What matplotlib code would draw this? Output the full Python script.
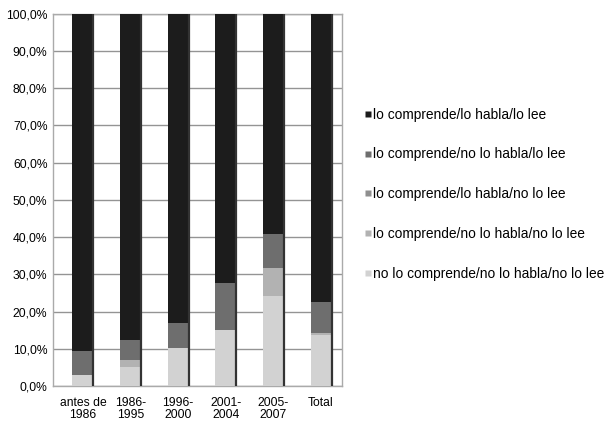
import matplotlib
matplotlib.use("Agg")
import matplotlib.pyplot as plt
from matplotlib.lines import Line2D
import numpy as np

plt.rcParams['font.family'] = ['Liberation Sans Narrow', 'Liberation Sans', 'DejaVu Sans']

categories = ["antes de\n1986", "1986-\n1995", "1996-\n2000", "2001-\n2004", "2005-\n2007", "Total"]
series_names = [
    "lo comprende/lo habla/lo lee",
    "lo comprende/no lo habla/lo lee",
    "lo comprende/lo habla/no lo lee",
    "lo comprende/no lo habla/no lo lee",
    "no lo comprende/no lo habla/no lo lee",
]
# stacked from bottom: no comprende, no habla/no lee, habla/no lee, no habla/lee, habla/lee
no_comprende = [3.0, 5.0, 10.2, 15.1, 24.1, 13.8]
no_habla_no_lee = [0.0, 2.0, 0.0, 0.0, 7.7, 0.5]
habla_no_lee = [0.0, 0.0, 0.0, 0.0, 0.0, 0.0]
no_habla_lee = [6.5, 5.3, 6.8, 12.6, 9.0, 8.2]
habla_lee = [90.5, 87.7, 83.0, 72.3, 59.2, 77.5]
yticks = [0, 10, 20, 30, 40, 50, 60, 70, 80, 90, 100]
ytick_labels = ["0,0%", "10,0%", "20,0%", "30,0%", "40,0%", "50,0%", "60,0%", "70,0%", "80,0%", "90,0%", "100,0%"]

colors = ["#1c1c1c", "#6e6e6e", "#8f8f8f", "#b2b2b2", "#d2d2d2"]

fig = plt.figure(figsize=(6.11, 4.23), dpi=100)
ax = fig.add_axes([0.0867, 0.0875, 0.473, 0.88])

x = np.arange(len(categories))
width = 0.44
stack = [no_comprende, no_habla_no_lee, habla_no_lee, no_habla_lee, habla_lee]
stack_colors = colors[::-1]
bottom = np.zeros(len(categories))
for vals, c in zip(stack, stack_colors):
    ax.bar(x, vals, width, bottom=bottom, color=c, edgecolor='none', zorder=3)
    bottom += np.array(vals)

# dark shadow line on right side of each bar
ax.vlines(x + width / 2, 0, bottom, color="#333333", lw=1.6, zorder=4)

ax.set_xlim(-0.63, 5.44)
ax.set_ylim(0, 100)
ax.set_yticks(yticks)
ax.set_yticklabels(ytick_labels, fontsize=8.7)
ax.set_xticks(x)
ax.set_xticklabels(categories, fontsize=8.7, linespacing=0.95)
ax.tick_params(axis='y', length=0, pad=4)
ax.tick_params(axis='x', length=0, pad=8)
ax.yaxis.grid(True, color="#949494", lw=1.0, zorder=0)
for s in ax.spines.values():
    s.set_color("#aaaaaa")
    s.set_linewidth(1.0)

handles = [Line2D([0], [0], marker='s', color='none', markerfacecolor=c, markeredgecolor='none',
                  markersize=4.5) for c in colors]
fig.legend(handles, series_names, loc='upper left', bbox_to_anchor=(0.585, 0.762),
           frameon=False, fontsize=9.9, handlelength=0.5, handletextpad=0.1,
           labelspacing=1.88, borderpad=0)

fig.savefig("out.png", dpi=100)
